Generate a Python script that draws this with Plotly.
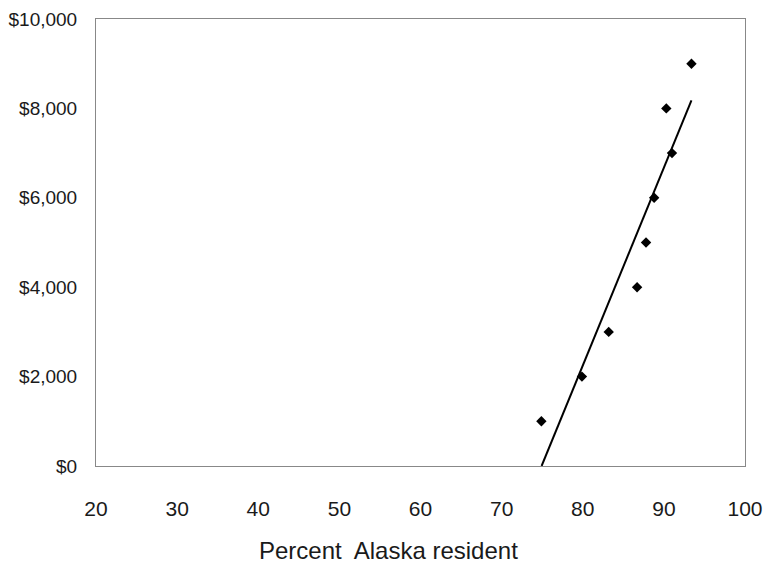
import numpy as np
import plotly.graph_objects as go

# Data
pct_resident = [74.9, 79.9, 83.2, 86.7, 87.8, 88.8, 91.0, 90.3, 93.4]
value_usd = [1000, 2000, 3000, 4000, 5000, 6000, 7000, 8000, 9000]
x_ticks = [20, 30, 40, 50, 60, 70, 80, 90, 100]
y_ticks = [0, 2000, 4000, 6000, 8000, 10000]
y_tick_text = ["\u200a$0", "\u200a$2,000", "\u200a$4,000", "\u200a$6,000", "\u200a$8,000", "\u200a$10,000"]
x_title = "Percent  Alaska resident"

# Least-squares trend line, drawn from y=0 up to the largest x
slope, intercept = np.polyfit(pct_resident, value_usd, 1)
x0 = -intercept / slope
x1 = max(pct_resident)
line_x = [x0, x1]
line_y = [slope * x0 + intercept, slope * x1 + intercept]

font_family = "Liberation Sans, Arial, sans-serif"

fig = go.Figure()
fig.add_trace(go.Scatter(
    x=line_x, y=line_y, mode="lines",
    line=dict(color="black", width=2), showlegend=False, hoverinfo="skip"))
fig.add_trace(go.Scatter(
    x=pct_resident, y=value_usd, mode="markers",
    marker=dict(symbol="diamond", size=8, color="black"), showlegend=False))

fig.update_layout(
    width=766, height=563,
    margin=dict(l=96, r=21, t=19, b=97),
    paper_bgcolor="white", plot_bgcolor="white",
    font=dict(family=font_family, size=20, color="#1a1a1a"),
)
fig.update_xaxes(
    range=[20, 100], tickvals=x_ticks, showgrid=False, zeroline=False,
    showline=True, mirror=True, linecolor="#888", linewidth=1,
    ticks="", ticklabelstandoff=24, automargin=False,
    tickfont=dict(size=21),
)
fig.update_yaxes(
    range=[0, 10000], tickvals=y_ticks, ticktext=y_tick_text,
    showgrid=False, zeroline=False,
    showline=True, mirror=True, linecolor="#888", linewidth=1,
    ticks="", ticklabelstandoff=14, automargin=False,
    tickfont=dict(size=19),
)
fig.add_annotation(
    text=x_title, xref="paper", yref="paper", x=0.45, y=-0.19,
    xanchor="center", yanchor="middle", showarrow=False,
    font=dict(size=24, family=font_family, color="#1a1a1a"),
)

fig.write_html("out.html")
